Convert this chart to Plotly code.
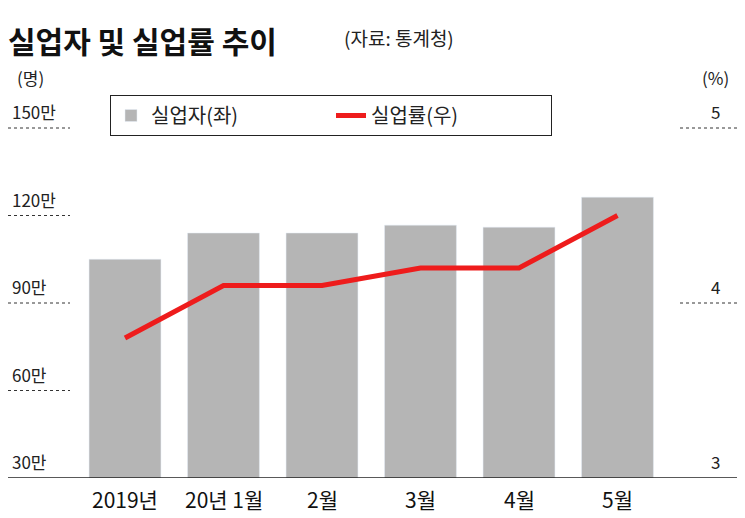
import plotly.graph_objects as go

categories = ["2019년", "20년 1월", "2월", "3월", "4월", "5월"]
unemployed = [105, 114, 114, 116.7, 116, 126.3]   # 만 명
rate = [3.8, 4.1, 4.1, 4.2, 4.2, 4.5]              # %
left_ticks = [150, 120, 90, 60, 30]
left_labels = ["150만", "120만", "90만", "60만", "30만"]
right_ticks = [5, 4, 3]
right_labels = ["5", "4", "3"]

FONT = "Noto Sans CJK KR"
W, H = 737, 510          # page body margin of 8px
PH = 470                 # plot height in figure pixels


def px(xp):
    return (xp - 8) / W


def py(yp):
    return (478 - yp) / PH


x = list(range(len(categories)))

fig = go.Figure()
fig.add_trace(go.Bar(x=x, y=unemployed, name="실업자(좌)", marker_color="#b5b5b5",
                     width=0.73, base=0))
fig.add_trace(go.Scatter(x=x, y=rate, name="실업률(우)", yaxis="y2", mode="lines",
                         line=dict(color="#ee1c1c", width=5)))

shapes = []
ann = []
for v, t in zip(left_ticks, left_labels):
    if v != 30:
        shapes.append(dict(type="line", xref="paper", yref="y", x0=0, x1=px(70), y0=v, y1=v,
                           line=dict(color="#333", width=1, dash="dot")))
    ann.append(dict(xref="paper", yref="y", x=px(10), y=v, text=t, showarrow=False,
                    xanchor="left", yanchor="bottom", yshift=2, font=dict(size=17, color="#222")))
for v, t in zip(right_ticks, right_labels):
    if v != 3:
        shapes.append(dict(type="line", xref="paper", yref="y2", x0=px(680), x1=1, y0=v, y1=v,
                           line=dict(color="#333", width=1, dash="dot")))
    ann.append(dict(xref="paper", yref="y2", x=px(715), y=v, text=t, showarrow=False,
                    xanchor="center", yanchor="bottom", yshift=2, font=dict(size=17, color="#222")))
shapes.append(dict(type="line", xref="paper", yref="y", x0=0, x1=1, y0=30, y1=30,
                   line=dict(color="#222", width=1.5)))
for i, c in enumerate(categories):
    ann.append(dict(xref="x", yref="paper", x=i, y=0, yshift=-4, text=c, showarrow=False,
                    yanchor="top", font=dict(size=21, color="#111")))
ann += [
    dict(xref="paper", yref="paper", x=px(6), y=py(40), text="<b>실업자 및 실업률 추이</b>",
         showarrow=False, xanchor="left", yanchor="middle", font=dict(size=30, color="#111")),
    dict(xref="paper", yref="paper", x=px(342), y=py(38), text="(자료: 통계청)",
         showarrow=False, xanchor="left", yanchor="middle", font=dict(size=19, color="#222")),
    dict(xref="paper", yref="paper", x=px(15), y=py(77), text="(명)",
         showarrow=False, xanchor="left", yanchor="middle", font=dict(size=17, color="#222")),
    dict(xref="paper", yref="paper", x=px(715), y=py(77), text="(%)",
         showarrow=False, xanchor="center", yanchor="middle", font=dict(size=17, color="#222")),
]

fig.update_layout(
    width=W, height=H, margin=dict(l=0, r=0, t=0, b=H - PH),
    paper_bgcolor="white", plot_bgcolor="white",
    font=dict(family=FONT),
    xaxis=dict(range=[-117/98.5, (W - 117)/98.5], visible=False, fixedrange=True),
    yaxis=dict(range=[30, 30 + PH/87.5*30], visible=False),
    yaxis2=dict(range=[3, 3 + PH/175], visible=False, overlaying="y", side="right"),
    legend=dict(orientation="h", x=px(110), y=py(95), xanchor="left", yanchor="top",
                bordercolor="#222", borderwidth=1, font=dict(size=20, color="#222"),
                entrywidth=175, bgcolor="white"),
    shapes=shapes, annotations=ann, showlegend=True,
)
fig.write_html("out.html")
